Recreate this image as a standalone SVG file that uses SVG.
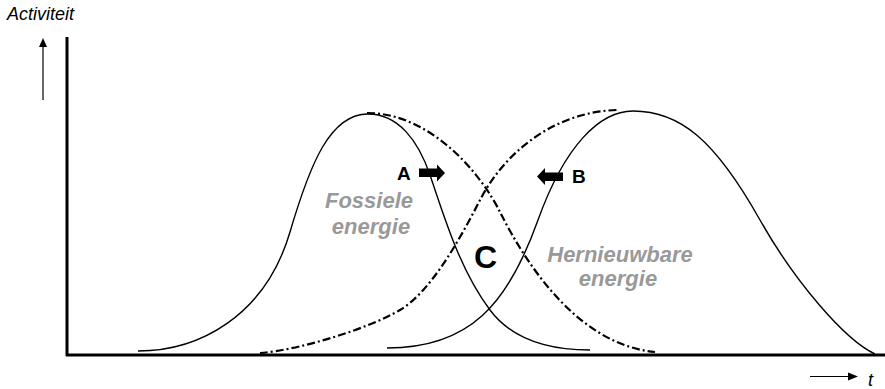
<svg xmlns="http://www.w3.org/2000/svg" width="885" height="389" viewBox="0 0 885 389">
<style>
.solid{fill:none;stroke:#000;stroke-width:1.4}
.dash{fill:none;stroke:#000;stroke-width:2.2;stroke-dasharray:8 3 2 3}
.axis{fill:none;stroke:#000;stroke-width:3}
.thin{fill:none;stroke:#000;stroke-width:1.2}
.lbl{font-family:"Liberation Sans",Arial,sans-serif;font-weight:bold;fill:#000}
.gray{font-family:"Liberation Sans",Arial,sans-serif;font-weight:bold;font-style:italic;fill:#999;font-size:22px;text-anchor:middle}
.ax{font-family:"Liberation Sans",Arial,sans-serif;font-style:italic;fill:#000}
</style>
<g id="axes">
<line class="axis" x1="67" y1="37" x2="67" y2="356"/>
<line class="axis" x1="66" y1="355" x2="885" y2="355"/>
<line class="thin" x1="43" y1="100" x2="43" y2="46"/>
<polygon points="43,38 39,47 47,47" fill="#000"/>
<line class="thin" x1="810" y1="376.5" x2="850" y2="376.5"/>
<polygon points="858,376.5 848,372.5 848,380.5" fill="#000"/>
<text class="ax" x="7" y="20" font-size="18">Activiteit</text>
<text class="ax" x="868" y="386" font-size="18">t</text>
</g>
<g id="connectors">
<path id="fossil" class="solid" d="M138,351 C198,351 265,317 290,232 C310,164 330,114 368,114 C398,114 418,140 430,175 C445,219 460,270 490,310 C508,334 540,350 590,350"/>
<path id="renewable" class="solid" d="M387,348 C470,348 508,304 538,220 C565,145 600,111 633,111 C680,111 715,140 760,220 C795,282 845,340 875,354"/>
<path id="fossil-proj" class="dash" d="M367,113 C430,113 480,172 500,212 C528,268 580,345 655,352"/>
<path id="renew-proj" class="dash" d="M260,353 C300,350 370,328 400,310 C430,292 458,243 480,200 C502,157 550,112 617,110"/>
</g>
<g id="label-fossil">
<text class="gray" x="369" y="208">Fossiele</text>
<text class="gray" x="371" y="234">energie</text>
</g>
<g id="label-renewable">
<text class="gray" x="620" y="262">Hernieuwbare</text>
<text class="gray" x="618" y="286">energie</text>
</g>
<g id="node-A">
<text class="lbl" x="397" y="180" font-size="19">A</text>
<polygon points="419,168.5 437,168.5 437,164.5 445,173 437,181.5 437,177 419,177" fill="#000"/>
</g>
<g id="node-B">
<text class="lbl" x="572" y="183" font-size="19">B</text>
<polygon points="563,172.5 545,172.5 545,168 537,176.5 545,185 545,181 563,181" fill="#000"/>
</g>
<g id="node-C">
<text class="lbl" x="474" y="268" font-size="32">C</text>
</g>
</svg>
